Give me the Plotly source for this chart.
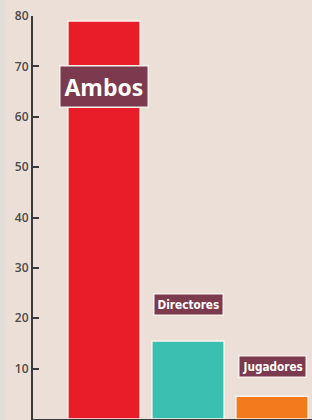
import plotly.graph_objects as go

categories = ["Ambos", "Directores", "Jugadores"]
values = [79, 15.5, 4.5]
colors = ["#e91c2a", "#3bbfb1", "#f27b1c"]
tick_vals = [0, 10, 20, 30, 40, 50, 60, 70, 80]

fig = go.Figure()
fig.add_trace(go.Bar(
    x=categories, y=values,
    marker=dict(color=colors, line=dict(color="#fbf3ee", width=1.5)),
    width=0.86,
))

label_y = [66, 22.7, 10.4]
label_font = [dict(family="Open Sans", size=23, color="white", weight="bold"),
              dict(family="DejaVu Sans Condensed", size=11.7, color="white", weight="bold"),
              dict(family="DejaVu Sans Condensed", size=11.7, color="white", weight="bold")]
label_pad = [4, 3, 3]
for c, ly, f, p in zip(categories, label_y, label_font, label_pad):
    fig.add_annotation(x=c, y=ly, text=c, showarrow=False, font=f,
                       bgcolor="#7b3a4d", bordercolor="#f7efe9", borderwidth=1.5,
                       borderpad=p)

fig.add_shape(type="rect", xref="paper", yref="paper", x0=-0.12, x1=-0.1, y0=-0.01, y1=1.05,
              fillcolor="#e2ddd9", line=dict(width=0), layer="below")

fig.update_layout(
    width=312, height=420,
    margin=dict(l=33, r=0, t=16, b=1),
    paper_bgcolor="#ecdfd7", plot_bgcolor="#ecdfd7",
    showlegend=False,
    bargap=0.14,
    xaxis=dict(range=[-0.845, 2.476], showticklabels=False, ticks="",
               showline=True, linecolor="#3a3a3a", linewidth=1.5, showgrid=False,
               zeroline=False),
    yaxis=dict(range=[0, 80], tickvals=tick_vals, ticks="inside", ticklen=6,
               tickwidth=2, tickcolor="#3a3a3a", showline=True, linecolor="#3a3a3a",
               linewidth=2, showgrid=False, zeroline=False,
               tickfont=dict(family="Open Sans", size=12, color="#4a4a4a", weight=600)),
)
fig.write_html("out.html", config={"displayModeBar": False},
               post_script="document.body.style.margin='0';document.body.style.overflow='hidden';")
